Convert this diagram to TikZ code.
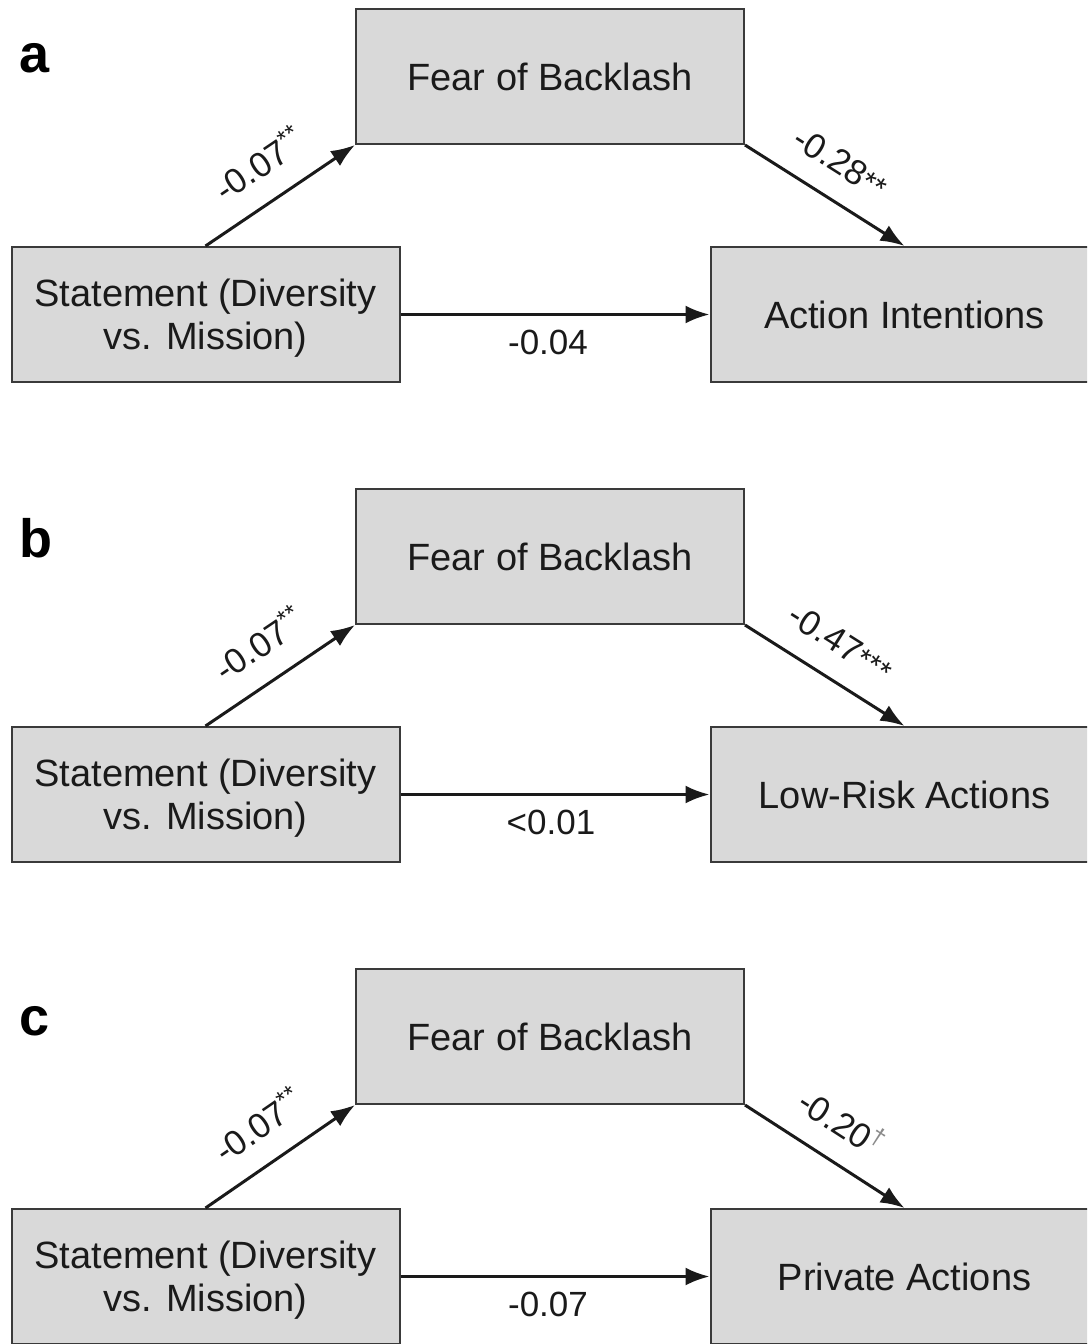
\documentclass[tikz,border=0pt]{standalone}
\usepackage{fontspec}
\setmainfont{Liberation Sans}
\usetikzlibrary{arrows.meta}
\definecolor{boxfill}{HTML}{D9D9D9}
\definecolor{boxline}{HTML}{3A3A3A}
\definecolor{ink}{HTML}{1A1A1A}
\definecolor{dagger}{HTML}{8A8A8A}
\begin{document}
\begin{tikzpicture}[x=0.5pt,y=-0.5pt,
  box/.style={draw=boxline, fill=boxfill, line width=1pt, minimum width=194pt, minimum height=67.5pt, align=center, text=ink, font=\fontsize{19}{21.5}\selectfont, inner sep=0pt},
  twoline/.style={text depth=0pt},
  conn/.style={line width=1.5pt, draw=ink, -{Latex[length=12pt,width=9pt]}},
  coef/.style={font=\fontsize{17.5}{20}\selectfont, text=ink},
  panel/.style={font=\fontsize{27}{30}\selectfont\bfseries, text=black}]
\useasboundingbox (0,0) rectangle (1087,1344);
\clip (0,0) rectangle (1087,1344);
\fill[white] (0,0) rectangle (1087,1344);
% panel a
\node[panel] (la) at (35,58) {a};
\node[box] (fa) at (550,76.5) {Fear of Backlash};
\node[box,twoline] (sa) at (205.5,314.5) {Statement (Diversity\\vs. Mission)};
\node[box] (oa) at (904.5,314.5) {Action Intentions};
\draw[conn] (sa.north) -- node[coef, sloped, above=8pt]{-0.07\textsuperscript{**}} (fa.south west);
\draw[conn] (fa.south east) -- node[coef, sloped, above=8pt, xshift=-2pt]{-0.28{\fontsize{15}{15}\selectfont**}} (oa.north);
\draw[conn] (sa.east) -- node[coef, below=3.5pt, xshift=-3.5pt]{-0.04} (oa.west);
% panel b
\node[panel] (lb) at (36,538) {b};
\node[box] (fb) at (550,556.5) {Fear of Backlash};
\node[box,twoline] (sb) at (205.5,794.5) {Statement (Diversity\\vs. Mission)};
\node[box] (ob) at (904.5,794.5) {Low-Risk Actions};
\draw[conn] (sb.north) -- node[coef, sloped, above=8pt]{-0.07\textsuperscript{**}} (fb.south west);
\draw[conn] (fb.south east) -- node[coef, sloped, above=8pt, xshift=-2pt]{-0.47{\fontsize{15}{15}\selectfont***}} (ob.north);
\draw[conn] (sb.east) -- node[coef, below=3.5pt, xshift=-2pt]{<0.01} (ob.west);
% panel c
\node[panel] (lc) at (35,1021) {c};
\node[box] (fc) at (550,1036.5) {Fear of Backlash};
\node[box,twoline] (sc) at (205.5,1276.5) {Statement (Diversity\\vs. Mission)};
\node[box] (oc) at (904.5,1276.5) {Private Actions};
\draw[conn] (sc.north) -- node[coef, sloped, above=8pt]{-0.07\textsuperscript{**}} (fc.south west);
\draw[conn] (fc.south east) -- node[coef, sloped, above=8pt, xshift=-2pt]{-0.20\textsuperscript{\textcolor{dagger}{†}}} (oc.north);
\draw[conn] (sc.east) -- node[coef, below=3.5pt, xshift=-3.5pt]{-0.07} (oc.west);
\end{tikzpicture}
\end{document}
